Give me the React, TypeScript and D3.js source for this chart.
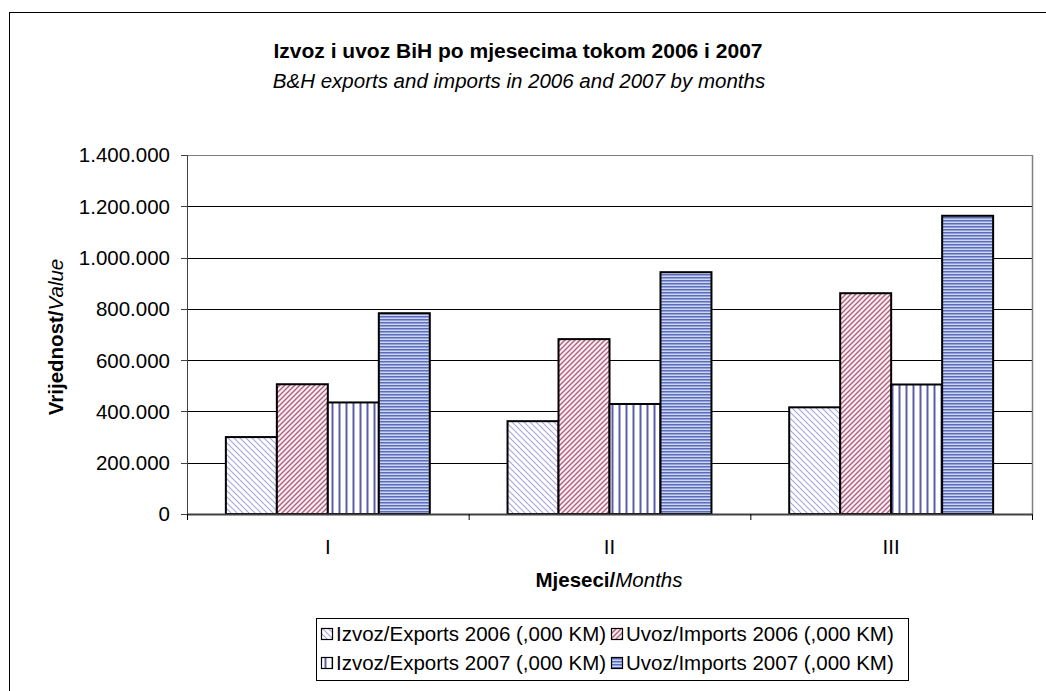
import React from "react";
import * as d3 from "d3";

const categories = ["I", "II", "III"];
const seriesNames = [
  "Izvoz/Exports 2006 (,000 KM)",
  "Uvoz/Imports 2006 (,000 KM)",
  "Izvoz/Exports 2007 (,000 KM)",
  "Uvoz/Imports 2007 (,000 KM)",
];
const exports2006 = [300000, 362000, 416000];
const imports2006 = [506000, 682000, 861000];
const exports2007 = [435000, 429000, 505000];
const imports2007 = [783000, 943000, 1163000];
const yTicks = [0, 200000, 400000, 600000, 800000, 1000000, 1200000, 1400000];

const seriesValues = [exports2006, imports2006, exports2007, imports2007];
const patternIds = ["pE06", "pI06", "pE07", "pI07"];

const W = 1046;
const H = 691;
const plot = { left: 187, right: 1032, top: 155, bottom: 514 };

const fmt = d3.formatLocale({ thousands: ".", grouping: [3], decimal: ",", currency: ["", ""] }).format(",");

export default function App() {
  const x = d3.scaleBand<string>().domain(categories).range([plot.left, plot.right]).paddingInner(0.276).paddingOuter(0.138);
  const x0 = d3.scaleBand<string>().domain(categories).range([plot.left, plot.right]);
  const xi = d3.scaleBand<number>().domain(d3.range(seriesNames.length)).range([0, x.bandwidth()]);
  const y = d3.scaleLinear().domain([0, 1400000]).range([plot.bottom, plot.top]);
  const font = "Arial, 'Liberation Sans', sans-serif";
  const fs = 20.5;

  return (
    <div style={{ position: "fixed", left: 0, top: 0, width: W, height: H, background: "#fff" }}>
      <svg width={W} height={H} style={{ display: "block", fontFamily: font }}>
        <defs>
          <pattern id="pE06" patternUnits="userSpaceOnUse" width={6} height={6}>
            <rect width={6} height={6} fill="#fff" />
            <path d="M-1,-1 L7,7 M-4,2 L2,8 M2,-4 L8,2" stroke="#a8a8e0" strokeWidth={1.2} />
          </pattern>
          <pattern id="pI06" patternUnits="userSpaceOnUse" width={5} height={5}>
            <rect width={5} height={5} fill="#fbeef2" />
            <path d="M-1,6 L6,-1 M-3,3 L3,-3 M2,8 L8,2" stroke="#b0607e" strokeWidth={1.4} />
          </pattern>
          <pattern id="pE07" patternUnits="userSpaceOnUse" width={7} height={7}>
            <rect width={7} height={7} fill="#fff" />
            <rect x={2.5} width={2} height={7} fill="#5a5ea8" />
          </pattern>
          <pattern id="pI07" patternUnits="userSpaceOnUse" width={3} height={3}>
            <rect width={3} height={3} fill="#cdd5f0" />
            <rect y={1} width={3} height={1.5} fill="#5a6cbc" />
          </pattern>
        </defs>

        {/* chart frame */}
        <rect x={9.5} y={12.5} width={W} height={H} fill="#fff" stroke="#000" strokeWidth={1} />

        {/* titles */}
        <text x={518} y={58} textAnchor="middle" fontSize={21} fontWeight="bold">Izvoz i uvoz BiH po mjesecima tokom 2006 i 2007</text>
        <text x={519} y={88} textAnchor="middle" fontSize={fs} fontStyle="italic">B&amp;H exports and imports in 2006 and 2007 by months</text>

        {/* gridlines */}
        {yTicks.filter((t) => t > 0).map((t) => (
          <line key={t} x1={plot.left} x2={plot.right} y1={Math.round(y(t)) + 0.5} y2={Math.round(y(t)) + 0.5} stroke={t === 1400000 ? "#808080" : "#000"} strokeWidth={1} />
        ))}
        <line x1={plot.right + 0.5} x2={plot.right + 0.5} y1={plot.top} y2={plot.bottom} stroke="#808080" strokeWidth={1.5} />

        {/* bars */}
        {categories.map((c, ci) => (
          <g key={c}>
            {seriesValues.map((vals, si) => {
              const bx = (x(c) as number) + (xi(si) as number);
              const by = y(vals[ci]);
              return (
                <rect key={si} x={bx} y={by} width={xi.bandwidth()} height={plot.bottom - by} fill={`url(#${patternIds[si]})`} stroke="#000" strokeWidth={2} />
              );
            })}
          </g>
        ))}

        {/* y axis */}
        <line x1={plot.left + 0.5} x2={plot.left + 0.5} y1={plot.top} y2={plot.bottom + 6} stroke="#404040" strokeWidth={1} />
        {yTicks.map((t) => (
          <g key={t}>
            <line x1={plot.left - 6} x2={plot.left} y1={Math.round(y(t)) + 0.5} y2={Math.round(y(t)) + 0.5} stroke="#404040" />
            <text x={170} y={y(t)} dy="0.36em" textAnchor="end" fontSize={fs}>{fmt(t)}</text>
          </g>
        ))}

        {/* x axis */}
        <line x1={plot.left} x2={plot.right} y1={plot.bottom + 0.5} y2={plot.bottom + 0.5} stroke="#404040" strokeWidth={2} />
        {categories.map((c) => (
          <line key={c} x1={(x0(c) as number) + 0.5} x2={(x0(c) as number) + 0.5} y1={plot.bottom} y2={plot.bottom + 6} stroke="#000" />
        ))}
        <line x1={plot.right + 0.5} x2={plot.right + 0.5} y1={plot.bottom} y2={plot.bottom + 6} stroke="#000" />
        {categories.map((c) => (
          <text key={c} x={(x0(c) as number) + x0.bandwidth() / 2} y={554} textAnchor="middle" fontSize={fs}>{c}</text>
        ))}

        {/* axis titles */}
        <text x={609} y={587} textAnchor="middle" fontSize={fs}>
          <tspan fontWeight="bold">Mjeseci/</tspan><tspan fontStyle="italic">Months</tspan>
        </text>
        <text transform={`translate(63,337) rotate(-90)`} textAnchor="middle" fontSize={fs}>
          <tspan fontWeight="bold">Vrijednost/</tspan><tspan fontStyle="italic">Value</tspan>
        </text>

        {/* legend */}
        <rect x={316.5} y={618.5} width={592} height={62} fill="#fff" stroke="#000" strokeWidth={1} />
        {seriesNames.map((name, i) => {
          const col = i % 2;
          const row = Math.floor(i / 2);
          const lx = 321 + col * 290;
          const ly = 634 + row * 29;
          return (
            <g key={name}>
              <rect x={lx + 0.5} y={ly - 5.5} width={11} height={11} fill={`url(#${patternIds[i]})`} stroke="#000" strokeWidth={1.2} />
              <text x={lx + 15} y={ly} dy="0.36em" fontSize={fs}>{name}</text>
            </g>
          );
        })}
      </svg>
    </div>
  );
}
